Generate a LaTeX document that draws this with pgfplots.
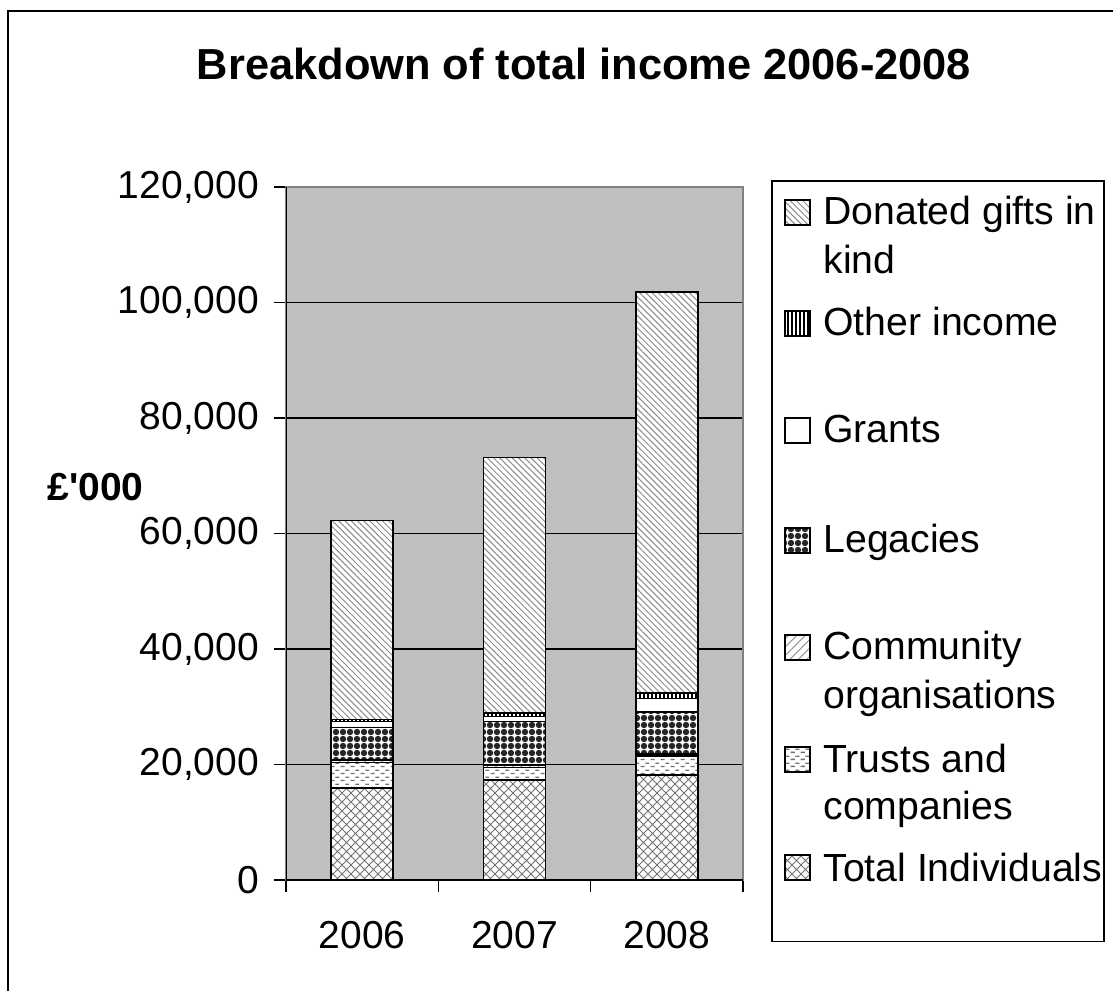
\documentclass[border=0pt]{standalone}
\usepackage{fontspec}
\setmainfont{Liberation Sans}
\usepackage{pgfplots}
\pgfplotsset{compat=1.18}
\usepackage{pgfplotstable}
\usetikzlibrary{patterns.meta}

\tikzdeclarepattern{
  name=diamonds, type=uncolored,
  bottom left={(-0.5pt,-0.5pt)}, top right={(5pt,5pt)},
  tile size={(4.5pt,4.5pt)},
  code={\draw[line width=0.45pt] (0pt,0pt)--(4.5pt,4.5pt) (0pt,4.5pt)--(4.5pt,0pt);}
}
\tikzdeclarepattern{
  name=hdashes, type=uncolored,
  bottom left={(0pt,0pt)}, top right={(5pt,3.5pt)},
  tile size={(5pt,3.5pt)},
  code={\draw[line width=0.7pt] (0.4pt,0.9pt)--(2.6pt,0.9pt) (2.9pt,2.65pt)--(5pt,2.65pt);}
}

\tikzset{
 indiv/.style={preaction={fill=white}, pattern=diamonds, pattern color=black!55},
 trusts/.style={preaction={fill=white}, pattern=hdashes, pattern color=black!55},
 commun/.style={preaction={fill=white}, pattern={Lines[angle=45,distance=3pt,line width=0.4pt]}, pattern color=black!45},
 legac/.style={preaction={fill=white}, pattern={Dots[distance=3.5pt,radius=1.6pt]}, pattern color=black!85},
 grants/.style={fill=white},
 other/.style={preaction={fill=white}, pattern={Lines[angle=90,distance=2pt,line width=1.1pt]}, pattern color=black},
 donated/.style={preaction={fill=white}, pattern={Lines[angle=-45,distance=2.2pt,line width=0.5pt]}, pattern color=black!45},
}

\pgfplotstableread{
x indiv  trusts commun legac grants other donated
0 15900  4400   500    5600  1000   400   34400
1 17300  2200   400    7500  900    600   44300
2 18200  3300   300    7300  2300   1000  69400
}\datatable

\begin{document}
\begin{tikzpicture}[x=1pt,y=1pt]
\useasboundingbox (0,0) rectangle (556.5,495.5);
\draw[line width=0.8pt] (4,0) -- (4,490) -- (556.5,490);

\begin{axis}[
  at={(143pt,55.5pt)}, anchor=south west,
  scale only axis, width=228.5pt, height=346.5pt,
  ybar stacked, bar width=31pt,
  xmin=-0.5, xmax=2.5, ymin=0, ymax=120000,
  axis background/.style={fill=black!25},
  axis line style={draw=black!50, line width=0.6pt},
  ytick={0,20000,40000,60000,80000,100000,120000},
  ymajorgrids, grid style={black, line width=0.6pt},
  xtick={0,1,2}, xticklabels={2006,2007,2008},
  minor xtick={-0.5,0.5,1.5,2.5},
  major x tick style={draw=none},
  minor x tick style={draw=black, line width=0.6pt},
  tick align=outside, tick pos=left,
  major tick length=6pt, minor tick length=6pt,
  y tick style={black, line width=0.6pt},
  scaled y ticks=false,
  yticklabel={\pgfmathprintnumber[fixed,precision=0,1000 sep={,},assume math mode=true]{\tick}},
  ticklabel style={font=\fontsize{19.5}{23}\selectfont},
  xticklabel style={yshift=-11pt},
  yticklabel style={xshift=-4pt},
]
\addplot[indiv, draw=black, line width=0.7pt] table[x=x,y=indiv]{\datatable};
\addplot[trusts, draw=black, line width=0.7pt] table[x=x,y=trusts]{\datatable};
\addplot[commun, draw=black, line width=0.7pt] table[x=x,y=commun]{\datatable};
\addplot[legac, draw=black, line width=0.7pt] table[x=x,y=legac]{\datatable};
\addplot[grants, draw=black, line width=0.7pt] table[x=x,y=grants]{\datatable};
\addplot[other, draw=black, line width=0.7pt] table[x=x,y=other]{\datatable};
\addplot[donated, draw=black, line width=0.7pt] table[x=x,y=donated]{\datatable};
\draw[black, line width=0.7pt] (rel axis cs:0,0) -- (rel axis cs:0,1);
\draw[black, line width=0.7pt] (rel axis cs:0,0) -- (rel axis cs:1,0);
\end{axis}

\node[font=\bfseries\fontsize{21.7}{26}\selectfont, anchor=base] at (292,455.5) {Breakdown of total income 2006-2008};
\node[font=\bfseries\fontsize{19.5}{23}\selectfont, anchor=base west, inner sep=0pt] at (23.5,245) {£\textquotesingle 000};

% legend
\draw[line width=0.6pt] (386,24.6) rectangle (552,405);
\begin{scope}[every node/.style={font=\fontsize{19.6}{23}\selectfont, anchor=base west, inner sep=0pt}]
\filldraw[donated, draw=black, line width=0.6pt] (392.5,383) rectangle (405,395.5);
\node at (411.5,383) {Donated gifts in};
\node at (411.5,358.5) {kind};
\filldraw[other, draw=black, line width=0.6pt] (392.5,327.5) rectangle (405,340);
\node at (411.5,327.5) {Other income};
\filldraw[grants, draw=black, line width=0.6pt] (392.5,274) rectangle (405,286.5);
\node at (411.5,274) {Grants};
\filldraw[legac, draw=black, line width=0.6pt] (392.5,219) rectangle (405,231.5);
\node at (411.5,219) {Legacies};
\filldraw[commun, draw=black, line width=0.6pt] (392.5,165.5) rectangle (405,178);
\node at (411.5,165.5) {Community};
\node at (411.5,141) {organisations};
\filldraw[trusts, draw=black, line width=0.6pt] (392.5,109.5) rectangle (405,122);
\node at (411.5,109.5) {Trusts and};
\node at (411.5,86) {companies};
\filldraw[indiv, draw=black, line width=0.6pt] (392.5,55.5) rectangle (405,68);
\node at (411.5,55) {Total Individuals};
\end{scope}
\end{tikzpicture}
\end{document}
